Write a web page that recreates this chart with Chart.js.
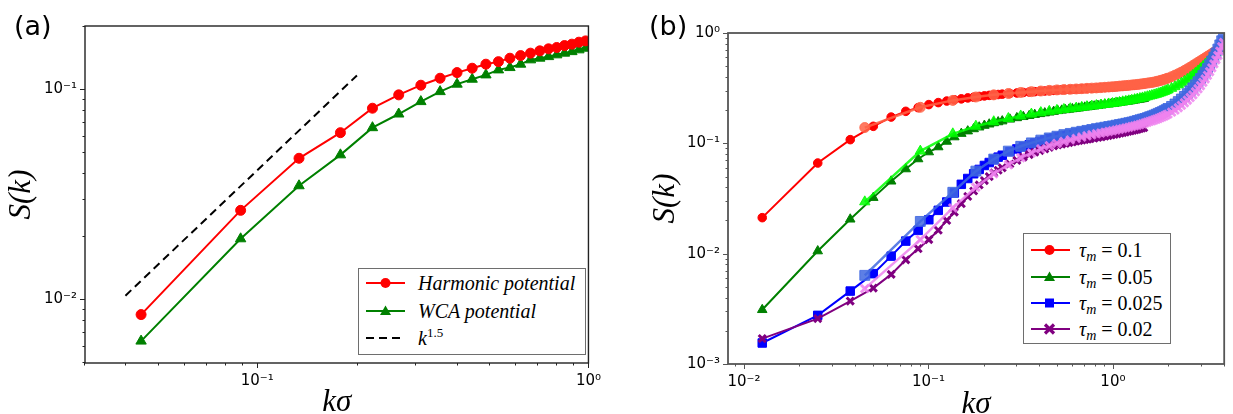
<!DOCTYPE html>
<html><head><meta charset="utf-8">
<script src="https://cdn.jsdelivr.net/npm/chart.js"></script>
<style>
html,body{margin:0;padding:0;background:#fff}
body{width:1233px;height:414px;overflow:hidden;position:relative}
.wrap{position:absolute;top:0;height:414px}
.plabel{position:absolute;font-family:'DejaVu Sans';font-size:27px;line-height:1;color:#000}
.legend{position:absolute;border:1.5px solid #6e6e6e;background:#fff;box-sizing:border-box}
.legend svg{position:absolute}
.legend .t{position:absolute;font-family:'Liberation Serif';font-style:italic;font-size:20px;line-height:1;white-space:nowrap;transform:translateY(-50%);color:#000}
.legend .t .r{font-style:normal}
.legend .t sub{font-size:14px;vertical-align:-4px;line-height:0}
.legend .t sup{font-size:13px;font-style:normal;vertical-align:8px;line-height:0}
</style>
</head><body>
<div class="wrap" style="left:0;width:610px"><canvas id="ca" width="610" height="414"></canvas></div>
<div class="wrap" style="left:615px;width:618px"><canvas id="cb" width="618" height="414"></canvas></div>
<div class="plabel" style="left:14px;top:12px">(a)</div>
<div class="plabel" style="left:649px;top:12px">(b)</div>

<div class="legend" id="legA" style="left:358px;top:268px;width:228px;height:87px"></div>
<div class="legend" id="legB" style="left:1023px;top:233px;width:148px;height:111px"></div>

<script>
// ---------------- Panel (a) data ----------------
const kA = [0.0446, 0.0891, 0.1337, 0.1783, 0.2228, 0.2674, 0.3119, 0.3565, 0.4011, 0.4456, 0.4902,
            0.5348, 0.5793, 0.6239, 0.6684, 0.7130, 0.7576, 0.8021, 0.8467, 0.8913, 0.9358, 0.9804];
const harmonicS = [0.00845, 0.0265, 0.0469, 0.0621, 0.0812, 0.094, 0.1045, 0.1128, 0.12, 0.1259, 0.1316,
                   0.1353, 0.1405, 0.1446, 0.1485, 0.1523, 0.1557, 0.158, 0.1614, 0.1639, 0.1675, 0.1699];
const wcaS = [0.00632, 0.0194, 0.0347, 0.0487, 0.0656, 0.0762, 0.0873, 0.0974, 0.1057, 0.1116, 0.117,
              0.1236, 0.1268, 0.1316, 0.138, 0.1406, 0.143, 0.1458, 0.1485, 0.151, 0.154, 0.1568];
const kFit = [0.04, 0.2];
const fitS = [0.0104, 0.1163];
const labelsA = ['Harmonic potential', 'WCA potential', 'k^1.5'];
const xTicksA = [0.03, 0.04, 0.05, 0.06, 0.07, 0.08, 0.09, 0.1, 0.2, 0.3, 0.4, 0.5, 0.6, 0.7, 0.8, 0.9, 1];
const yTicksA = [0.005, 0.006, 0.007, 0.008, 0.009, 0.01, 0.02, 0.03, 0.04, 0.05, 0.06, 0.07, 0.08, 0.09, 0.1, 0.2];

// ---------------- Panel (b) data : smaller-k runs (dark colours) ----------------
const kDark = [0.01257, 0.02513, 0.0377, 0.05027, 0.06283, 0.0754, 0.08796, 0.1005, 0.1131, 0.1257,
               0.1382, 0.1508, 0.1634, 0.1759, 0.1885, 0.2011, 0.2136, 0.2262, 0.2388, 0.2513,
               0.2765, 0.3016, 0.3267, 0.3519, 0.377, 0.4021, 0.4273, 0.4524, 0.4775, 0.5027,
               0.5278, 0.5529, 0.5781, 0.6032, 0.6283, 0.6535, 0.6786, 0.7037, 0.7288, 0.754,
               0.7917, 0.8294, 0.8671, 0.9048, 0.9425, 0.9802, 1.0179, 1.0556, 1.0933, 1.131,
               1.1687, 1.2064, 1.2441, 1.2818, 1.3195, 1.3572, 1.3949, 1.4326, 1.4703];
const tau01S = [0.0212, 0.0663, 0.108, 0.1426, 0.173, 0.195, 0.2106, 0.2244, 0.234, 0.2417,
                0.248, 0.253, 0.258, 0.262, 0.266, 0.269, 0.272, 0.275, 0.277, 0.279,
                0.283, 0.286, 0.289, 0.292, 0.294, 0.296, 0.298, 0.300, 0.302, 0.304,
                0.3055, 0.307, 0.308, 0.309, 0.310, 0.311, 0.312, 0.313, 0.314, 0.315,
                0.316, 0.318, 0.319, 0.321, 0.322, 0.324, 0.325, 0.327, 0.329, 0.3305,
                0.332, 0.333, 0.335, 0.336, 0.338, 0.34, 0.342, 0.344, 0.346];
const tau005S = [0.0031, 0.01056, 0.0205, 0.0322, 0.0453, 0.0585, 0.0721, 0.0834, 0.0926, 0.104,
                 0.114, 0.1225, 0.129, 0.135, 0.14, 0.145, 0.149, 0.153, 0.156, 0.159,
                 0.165, 0.17, 0.174, 0.178, 0.182, 0.185, 0.188, 0.191, 0.194, 0.197,
                 0.199, 0.201, 0.203, 0.205, 0.2065, 0.208, 0.210, 0.212, 0.2135, 0.215,
                 0.217, 0.2195, 0.222, 0.224, 0.226, 0.228, 0.23, 0.232, 0.234, 0.236,
                 0.238, 0.24, 0.242, 0.244, 0.246, 0.248, 0.25, 0.252, 0.254];
const tau0025S = [0.00155, 0.00276, 0.00458, 0.00659, 0.0095, 0.013, 0.01626, 0.0203, 0.0247, 0.0294,
                  0.0355, 0.0425, 0.048, 0.053, 0.058, 0.063, 0.067, 0.071, 0.075, 0.078,
                  0.084, 0.089, 0.093, 0.097, 0.101, 0.104, 0.107, 0.11, 0.112, 0.114,
                  0.116, 0.118, 0.1195, 0.121, 0.1225, 0.124, 0.1255, 0.127, 0.1285, 0.13,
                  0.1315, 0.133, 0.1345, 0.136, 0.1375, 0.139, 0.1405, 0.142, 0.1435, 0.145,
                  0.1465, 0.148, 0.1495, 0.151, 0.1525, 0.154, 0.1555, 0.157, 0.159];
const tau002S = [0.0017, 0.00258, 0.00372, 0.00488, 0.00649, 0.0088, 0.0111, 0.0134, 0.0163, 0.02,
                 0.0238, 0.0284, 0.033, 0.037, 0.042, 0.046, 0.05, 0.054, 0.057, 0.06,
                 0.065, 0.07, 0.075, 0.079, 0.083, 0.086, 0.089, 0.092, 0.095, 0.097,
                 0.0985, 0.1, 0.1015, 0.103, 0.1045, 0.106, 0.107, 0.108, 0.109, 0.11,
                 0.1115, 0.113, 0.1145, 0.116, 0.1175, 0.119, 0.1205, 0.122, 0.1235, 0.125,
                 0.1265, 0.128, 0.1295, 0.131, 0.1325, 0.134, 0.1355, 0.137, 0.1385];

// ---------------- Panel (b) data : larger-k runs (light colours) ----------------
const kLight = [0.0452, 0.0904, 0.1356, 0.1808, 0.226, 0.2712, 0.3164, 0.3616, 0.4068, 0.452,
                0.4972, 0.5424, 0.5876, 0.6328, 0.678, 0.7232, 0.7684, 0.8136, 0.8588, 0.904,
                0.9492, 0.9944, 1.0396, 1.0848, 1.13, 1.1752, 1.2204, 1.2656, 1.3108, 1.356,
                1.4012, 1.4464, 1.4916, 1.5368, 1.582, 1.6272, 1.6724, 1.7176, 1.7628, 1.808,
                1.8532, 1.8984, 1.9436, 1.9888, 2.0792, 2.1696, 2.26, 2.3504, 2.4408, 2.5312,
                2.6216, 2.712, 2.8024, 2.8928, 2.9832, 3.0736, 3.164, 3.2544, 3.3448, 3.4352,
                3.5256, 3.616, 3.7064, 3.7968, 3.8872, 3.9776];
const tau01L = [0.139, 0.212, 0.245, 0.263, 0.275, 0.283, 0.289, 0.294, 0.298, 0.302,
                0.305, 0.307, 0.309, 0.311, 0.313, 0.315, 0.3165, 0.318, 0.320, 0.322,
                0.324, 0.326, 0.328, 0.330, 0.332, 0.334, 0.336, 0.338, 0.340, 0.342,
                0.344, 0.3465, 0.349, 0.3515, 0.354, 0.356, 0.3595, 0.363, 0.367, 0.371,
                0.375, 0.38, 0.385, 0.39, 0.402, 0.415, 0.428, 0.442, 0.457, 0.473,
                0.49, 0.507, 0.525, 0.543, 0.56, 0.578, 0.596, 0.614, 0.632, 0.65,
                0.668, 0.686, 0.705, 0.724, 0.742, 0.76];
const tau005L = [0.0295, 0.085, 0.122, 0.143, 0.157, 0.168, 0.177, 0.184, 0.19, 0.195,
                 0.199, 0.203, 0.206, 0.209, 0.212, 0.215, 0.2175, 0.22, 0.2225, 0.225,
                 0.2275, 0.23, 0.2325, 0.235, 0.238, 0.2405, 0.243, 0.246, 0.249, 0.252,
                 0.255, 0.258, 0.261, 0.2645, 0.268, 0.271, 0.2745, 0.278, 0.282, 0.286,
                 0.2905, 0.295, 0.30, 0.305, 0.315, 0.326, 0.338, 0.351, 0.365, 0.38,
                 0.396, 0.414, 0.433, 0.453, 0.474, 0.497, 0.521, 0.546, 0.573, 0.602,
                 0.633, 0.666, 0.70, 0.737, 0.776, 0.815];
const tau0025L = [0.00636, 0.0196, 0.036, 0.056, 0.072, 0.085, 0.094, 0.101, 0.107, 0.112,
                  0.116, 0.12, 0.123, 0.126, 0.1285, 0.131, 0.1335, 0.136, 0.138, 0.14,
                  0.142, 0.144, 0.146, 0.148, 0.150, 0.152, 0.154, 0.156, 0.1585, 0.161,
                  0.1635, 0.166, 0.168, 0.171, 0.174, 0.177, 0.180, 0.1835, 0.187, 0.1905,
                  0.194, 0.198, 0.202, 0.207, 0.216, 0.227, 0.239, 0.252, 0.266, 0.282,
                  0.299, 0.318, 0.339, 0.362, 0.387, 0.414, 0.444, 0.478, 0.516, 0.558,
                  0.605, 0.657, 0.715, 0.78, 0.85, 0.92];
const tau002L = [0.00482, 0.0134, 0.026, 0.04, 0.053, 0.064, 0.074, 0.082, 0.089, 0.095,
                 0.10, 0.104, 0.1075, 0.111, 0.114, 0.117, 0.1195, 0.122, 0.124, 0.126,
                 0.128, 0.13, 0.132, 0.134, 0.136, 0.138, 0.14, 0.142, 0.144, 0.146,
                 0.148, 0.1505, 0.153, 0.1555, 0.158, 0.16, 0.1628, 0.1655, 0.168, 0.171,
                 0.174, 0.177, 0.1805, 0.184, 0.192, 0.2, 0.21, 0.221, 0.233, 0.246,
                 0.26, 0.275, 0.293, 0.312, 0.333, 0.357, 0.383, 0.413, 0.446, 0.483,
                 0.525, 0.572, 0.625, 0.685, 0.752, 0.82];
const tauLabels = ['0.1', '0.05', '0.025', '0.02'];
const xTicksB = [0.009, 0.01, 0.02, 0.03, 0.04, 0.05, 0.06, 0.07, 0.08, 0.09, 0.1, 0.2, 0.3, 0.4, 0.5, 0.6, 0.7, 0.8, 0.9, 1, 2, 3, 4];
const yTicksB = [0.001, 0.002, 0.003, 0.004, 0.005, 0.006, 0.007, 0.008, 0.009, 0.01, 0.02, 0.03, 0.04, 0.05, 0.06, 0.07, 0.08, 0.09,
                 0.1, 0.2, 0.3, 0.4, 0.5, 0.6, 0.7, 0.8, 0.9, 1];

// ---------------- helpers ----------------
const pts = (ks, ss) => ks.map((k, i) => ({x: k, y: ss[i]}));
const isPow10 = v => Math.abs(Math.log10(v) - Math.round(Math.log10(v))) < 1e-6;
const SUP = {'-': '\u207B', '0': '\u2070', '1': '\u00B9', '2': '\u00B2', '3': '\u00B3'};
const powLabel = v => {
  if (!isPow10(v)) return '';
  const e = String(Math.round(Math.log10(v)));
  return '10' + e.split('').map(c => SUP[c]).join('');
};

const framePlugin = {
  id: 'frame',
  afterDraw(chart, args, o) {
    const {ctx, chartArea: a} = chart;
    const xs = chart.scales.x, ys = chart.scales.y;
    ctx.save();
    ctx.strokeStyle = o.color;
    ctx.lineWidth = 1;
    ctx.beginPath();
    xs.ticks.forEach(t => {
      const p = Math.round(xs.getPixelForValue(t.value)) + 0.5;
      if (p < a.left - 1 || p > a.right + 1) return;
      const len = isPow10(t.value) ? o.major : o.minor;
      ctx.moveTo(p, a.bottom); ctx.lineTo(p, a.bottom + len);
    });
    ys.ticks.forEach(t => {
      const p = Math.round(ys.getPixelForValue(t.value)) + 0.5;
      if (p < a.top - 1 || p > a.bottom + 1) return;
      const len = isPow10(t.value) ? o.major : o.minor;
      ctx.moveTo(a.left, p); ctx.lineTo(a.left - len, p);
    });
    ctx.stroke();
    ctx.lineWidth = o.width;
    ctx.strokeRect(a.left, a.top, a.right - a.left, a.bottom - a.top);
    ctx.restore();
  }
};

function line(label, ks, ss, color, style, r, lw, order, pbw, extra) {
  return Object.assign({
    label, data: pts(ks, ss), showLine: true,
    borderColor: color, backgroundColor: color, borderWidth: lw,
    pointStyle: style, pointRadius: r, pointHoverRadius: r,
    pointBackgroundColor: color, pointBorderColor: color, pointBorderWidth: pbw,
    order, clip: 0, tension: 0
  }, extra || {});
}

function axes(xmin, xmax, ymin, ymax, xt, yt, yw, xh, ytitlePad, xtitleLH) {
  const tickFont = {family: 'DejaVu Sans', size: 15};
  return {
    x: {
      type: 'logarithmic', min: xmin, max: xmax,
      afterBuildTicks: s => { s.ticks = xt.map(v => ({value: v})); },
      afterFit: s => { s.height = xh; },
      grid: {display: false, drawTicks: false},
      border: {display: false},
      ticks: {autoSkip: false, maxRotation: 0, padding: 9, color: '#000', font: tickFont,
              callback: v => powLabel(v)},
      title: {display: true, text: 'k\u03C3', color: '#000',
              font: {family: 'Liberation Serif', style: 'italic', size: 31, lineHeight: xtitleLH},
              padding: {top: 0, bottom: 0}}
    },
    y: {
      type: 'logarithmic', min: ymin, max: ymax,
      afterBuildTicks: s => { s.ticks = yt.map(v => ({value: v})); },
      afterFit: s => { s.width = yw; },
      grid: {display: false, drawTicks: false},
      border: {display: false},
      ticks: {autoSkip: false, padding: 8, color: '#000', font: tickFont,
              callback: v => powLabel(v)},
      title: {display: true, text: 'S(k)', color: '#000',
              font: {family: 'Liberation Serif', style: 'italic', size: 31, lineHeight: '30px'},
              padding: {top: ytitlePad, bottom: 0}}
    }
  };
}

const common = {
  responsive: false, animation: false, devicePixelRatio: 1,
  plugins: {legend: {display: false}, tooltip: {enabled: false}},
  events: []
};

// ---------------- Chart (a) ----------------
new Chart(document.getElementById('ca'), {
  type: 'scatter',
  data: {datasets: [
    line(labelsA[0], kA, harmonicS, '#ff0000', 'circle', 5, 2, 1, 1),
    line(labelsA[1], kA, wcaS, '#008000', 'triangle', 6, 2, 2, 1),
    line(labelsA[2], kFit, fitS, '#000000', 'circle', 0, 2, 0, 0, {borderDash: [8, 5]})
  ]},
  options: Object.assign({}, common, {
    layout: {padding: {top: 26, right: 16, bottom: 0, left: 0}},
    scales: axes(0.0302, 1, 0.00497, 0.2, xTicksA, yTicksA, 85, 51, 7, '22px'),
    plugins: Object.assign({}, common.plugins, {frame: {color: '#222', width: 1.4, major: 5, minor: 2.5}})
  }),
  plugins: [framePlugin]
});

// ---------------- Chart (b) ----------------
const A = 0.85;
new Chart(document.getElementById('cb'), {
  type: 'scatter',
  data: {datasets: [
    line('\u03C4m = ' + tauLabels[3] + ' (large k)', kLight, tau002L, 'rgba(238,130,238,' + A + ')', 'crossRot', 5.5, 2.5, 0, 3),
    line('\u03C4m = ' + tauLabels[3], kDark, tau002S, '#800080', 'crossRot', 5, 2, 1, 3),
    line('\u03C4m = ' + tauLabels[2] + ' (large k)', kLight, tau0025L, 'rgba(65,105,225,' + A + ')', 'rect', 7, 2.5, 2, 1),
    line('\u03C4m = ' + tauLabels[2], kDark, tau0025S, '#0000ff', 'rect', 6, 2, 3, 1),
    line('\u03C4m = ' + tauLabels[1] + ' (large k)', kLight, tau005L, 'rgba(0,255,0,' + A + ')', 'triangle', 6, 2.5, 4, 1),
    line('\u03C4m = ' + tauLabels[1], kDark, tau005S, '#008000', 'triangle', 5.5, 2, 5, 1),
    line('\u03C4m = ' + tauLabels[0] + ' (large k)', kLight, tau01L, 'rgba(255,99,71,' + A + ')', 'circle', 5, 2.5, 6, 1),
    line('\u03C4m = ' + tauLabels[0], kDark, tau01S, '#ff0000', 'circle', 4.3, 2, 7, 1)
  ]},
  options: Object.assign({}, common, {
    layout: {padding: {top: 33, right: 4, bottom: 0, left: 0}},
    scales: axes(0.0082, 4.01, 0.001, 1, xTicksB, yTicksB, 113, 50, 36, '18px'),
    plugins: Object.assign({}, common.plugins, {frame: {color: '#555', width: 1.8, major: 5, minor: 2.5}})
  }),
  plugins: [framePlugin]
});

// ---------------- HTML legends ----------------
function markerSVG(kind, color, cx, cy) {
  if (kind === 'circle') return `<circle cx="${cx}" cy="${cy}" r="5" fill="${color}"/>`;
  if (kind === 'triangle') return `<polygon points="${cx},${cy-5.5} ${cx-5.5},${cy+4} ${cx+5.5},${cy+4}" fill="${color}"/>`;
  if (kind === 'square') return `<rect x="${cx-4.5}" y="${cy-4.5}" width="9" height="9" fill="${color}"/>`;
  if (kind === 'x') return `<path d="M${cx-4.5},${cy-4.5}L${cx+4.5},${cy+4.5}M${cx-4.5},${cy+4.5}L${cx+4.5},${cy-4.5}" stroke="${color}" stroke-width="3.2"/>`;
  return '';
}
function legendRow(box, y, x0, x1, mx, tx, color, kind, dash, html) {
  const svg = `<svg width="${x1 + 4}" height="20" style="left:0;top:${y - 10}px">` +
    `<line x1="${x0}" y1="10" x2="${x1}" y2="10" stroke="${color}" stroke-width="2.2" ${dash ? 'stroke-dasharray="8,5"' : ''}/>` +
    (kind ? markerSVG(kind, color, mx, 10) : '') + `</svg>`;
  box.insertAdjacentHTML('beforeend', svg + `<div class="t" style="left:${tx}px;top:${y}px">${html}</div>`);
}
const legA = document.getElementById('legA');
legendRow(legA, 13.5, 7, 46, 26.5, 59, '#ff0000', 'circle', false, labelsA[0]);
legendRow(legA, 42, 7, 46, 26.5, 59, '#008000', 'triangle', false, labelsA[1]);
legendRow(legA, 68.5, 7, 46, 26.5, 59, '#000000', null, true, 'k<sup>1.5</sup>');

const legB = document.getElementById('legB');
const bCols = ['#ff0000', '#008000', '#0000ff', '#800080'];
const bKinds = ['circle', 'triangle', 'square', 'x'];
const bRows = [16, 43, 69.3, 95.3];
tauLabels.forEach((t, i) => {
  legendRow(legB, bRows[i], 7, 46, 25.5, 55, bCols[i], bKinds[i], false,
    `\u03C4<sub>m</sub><span class="r"> = ${t}</span>`);
});
</script>
</body></html>
